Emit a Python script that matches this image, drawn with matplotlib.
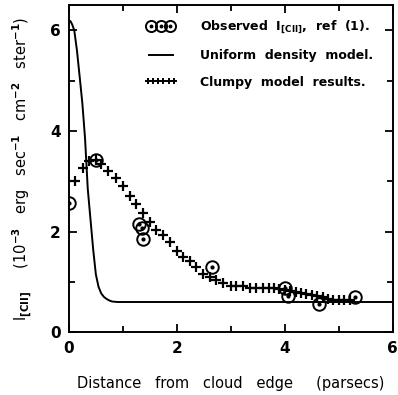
import numpy as np
import matplotlib
matplotlib.use("Agg")
import matplotlib.pyplot as plt
from matplotlib.lines import Line2D
from matplotlib.legend_handler import HandlerLine2D, HandlerTuple
from matplotlib.ticker import MultipleLocator

# observed [CII] intensities, ref (1)
obs_x = [0.0, 0.5, 1.30, 1.35, 1.38, 2.65, 4.0, 4.05, 4.63, 5.3]
obs_y = [2.56, 3.42, 2.15, 2.08, 1.85, 1.29, 0.87, 0.72, 0.56, 0.70]

# uniform density model
uni_x = [0.0, 0.03, 0.06, 0.1, 0.15, 0.2, 0.25, 0.3, 0.35, 0.4, 0.45, 0.5,
         0.55, 0.6, 0.65, 0.7, 0.75, 0.8, 0.9, 1.0, 6.0]
uni_y = [6.2, 6.18, 6.12, 6.0, 5.6, 5.08, 4.55, 3.85, 2.85, 2.25, 1.65, 1.15,
         0.9, 0.77, 0.7, 0.66, 0.63, 0.61, 0.6, 0.6, 0.6]

# clumpy model results
clump_x = [0.12, 0.27, 0.38, 0.5, 0.6, 0.73, 0.87, 1.0, 1.13, 1.25, 1.38,
           1.5, 1.62, 1.75, 1.88, 2.0, 2.12, 2.24, 2.36, 2.49, 2.61, 2.73,
           2.86, 3.0, 3.1, 3.22, 3.35, 3.47, 3.6, 3.7, 3.8, 3.9, 4.0, 4.1,
           4.2, 4.3, 4.4, 4.5, 4.6, 4.7, 4.8, 4.9, 5.0, 5.1, 5.2]
clump_y = [3.0, 3.27, 3.4, 3.42, 3.34, 3.21, 3.07, 2.9, 2.71, 2.55, 2.37,
           2.19, 2.04, 1.93, 1.80, 1.62, 1.50, 1.42, 1.30, 1.15, 1.09, 1.03,
           0.98, 0.92, 0.91, 0.91, 0.88, 0.87, 0.87, 0.87, 0.87, 0.86, 0.84,
           0.81, 0.79, 0.77, 0.75, 0.74, 0.72, 0.70, 0.66, 0.64, 0.64, 0.64,
           0.64]

plt.rcParams['font.family'] = ['DejaVu Sans']
plt.rcParams['font.weight'] = 'bold'
plt.rcParams['mathtext.default'] = 'bf'
fig = plt.figure(figsize=(3.98, 3.95), dpi=100)
ax = fig.add_axes([0.173, 0.159, 0.814, 0.828])

ax.plot(uni_x, uni_y, color='black', lw=1.4)
ax.plot(clump_x, clump_y, ls='none', marker='+', ms=6.5, mew=1.6, color='black')
ax.plot(obs_x, obs_y, ls='none', marker='o', ms=9, mfc='none', mec='black',
        mew=1.4)
ax.plot(obs_x, obs_y, ls='none', marker='o', ms=2, color='black')

ax.set_xlim(0, 6)
ax.set_ylim(0, 6.5)
ax.xaxis.set_major_locator(MultipleLocator(2))
ax.xaxis.set_minor_locator(MultipleLocator(1))
ax.yaxis.set_major_locator(MultipleLocator(2))
ax.yaxis.set_minor_locator(MultipleLocator(1))
ax.tick_params(which='both', direction='in', top=True, right=True, width=1.3,
               labelsize=11, pad=6)
ax.tick_params(which='major', length=6)
ax.tick_params(which='minor', length=4)
for s in ax.spines.values():
    s.set_linewidth(1.4)

ax.set_xlabel('Distance   from   cloud   edge     (parsecs)', fontsize=10.5,
              labelpad=15)
ax.set_ylabel(r'I$_{[CII]}$     (10$^{-3}$   erg   sec$^{-1}$   cm$^{-2}$   ster$^{-1}$)',
              fontsize=10.5, labelpad=11)

# legend proxies
p_circ = Line2D([], [], ls='none', marker='o', ms=8, mfc='none', mec='black',
                mew=1.4)
p_dot = Line2D([], [], ls='none', marker='o', ms=1.8, color='black')
p_uni = Line2D([], [], color='black', lw=1.4)
p_cl = Line2D([], [], ls='none', marker='+', ms=5, mew=1.4, color='black')
hm = {p_circ: HandlerLine2D(numpoints=3, marker_pad=0.5),
      p_dot: HandlerLine2D(numpoints=3, marker_pad=0.5),
      p_cl: HandlerLine2D(numpoints=6, marker_pad=0.2),
      p_uni: HandlerLine2D(numpoints=2),
      tuple: HandlerTuple(ndivide=1, pad=0)}
ax.legend([(p_circ, p_dot), p_uni, p_cl],
          [r'Observed  I$_{[CII]}$,  ref  (1).',
           'Uniform  density  model.', 'Clumpy  model  results.'],
          handler_map=hm, loc='upper left', bbox_to_anchor=(0.22, 0.975),
          borderaxespad=0, frameon=False, fontsize=9, handlelength=2.5,
          handletextpad=1.9, labelspacing=1.1)

fig.savefig('out.png', dpi=100)
